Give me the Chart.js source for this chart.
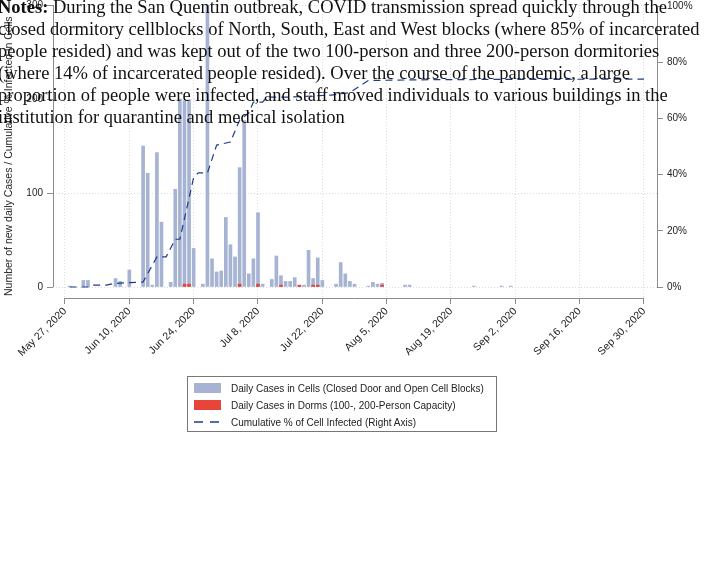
<!DOCTYPE html>
<html>
<head>
<meta charset="utf-8">
<script src="https://cdn.jsdelivr.net/npm/chart.js@4.4.0/dist/chart.umd.min.js"></script>
<style>
  html, body { margin: 0; padding: 0; background: #fff; }
  #wrap { position: relative; width: 717px; height: 583px; overflow: hidden; }
  #chart { position: absolute; left: 0; top: 0; }
  .notes {
    position: absolute; left: -2px; top: -4px;
    font-family: "Liberation Serif", "Times New Roman", serif;
    font-size: 18.5px; line-height: 22px; color: #111; white-space: nowrap;
  }
  .ytitle {
    position: absolute; left: 2px; top: 296px;
    transform-origin: left top; transform: rotate(-90deg);
    font-family: "Liberation Sans", Arial, sans-serif; font-size: 10.5px;
    line-height: 12px; color: #222; white-space: nowrap;
  }
  .legend {
    position: absolute; left: 187px; top: 376px; width: 308px; height: 54px;
    border: 1px solid #777; font-family: "Liberation Sans", Arial, sans-serif;
    font-size: 10px; color: #222; white-space: nowrap;
  }
  .row { position: absolute; left: 6px; height: 12px; display: flex; align-items: center; }
  .swatch { width: 27px; height: 10px; margin-right: 10px; flex: none; }
</style>
</head>
<body>
<div id="wrap">
  <canvas id="chart" width="717" height="583"></canvas>
  <div class="ytitle" id="ytitle"></div>
  <div class="legend" id="legend"></div>
  <div class="notes"><b>Notes:</b> During the San Quentin outbreak, COVID transmission spread quickly through the<br>closed dormitory cellblocks of North, South, East and West blocks (where 85% of incarcerated<br>people resided) and was kept out of the two 100-person and three 200-person dormitories<br>(where 14% of incarcerated people resided). Over the course of the pandemic, a large<br>proportion of people were infected, and staff moved individuals to various buildings in the<br>institution for quarantine and medical isolation</div>
</div>
<script>
// Colours
const CELL_COLOR = "#a6b3d3", DORM_COLOR = "#e8443a", LINE_COLOR = "#1f3c88";
const AXIS_COLOR = "#8c8c8c", GRID_COLOR = "#dcdcdc";

// Days since May 27, 2020 and their tick labels
const tickDays = [0, 14, 28, 42, 56, 70, 84, 98, 112, 126];
const tickLabels = ["May 27, 2020", "Jun 10, 2020", "Jun 24, 2020", "Jul 8, 2020", "Jul 22, 2020",
                    "Aug 5, 2020", "Aug 19, 2020", "Sep 2, 2020", "Sep 16, 2020", "Sep 30, 2020"];

// Daily cases in cells
const cellDays  = [1, 4, 5, 11, 12, 14, 17, 18, 19, 20, 21, 23, 24, 25, 26, 27, 28, 30, 31, 32, 33, 34, 35, 36, 37,
                   38, 39, 40, 41, 42, 43, 45, 46, 47, 48, 49, 50, 51, 52, 53, 54, 55, 56, 59, 60, 61, 62, 63,
                   66, 67, 68, 69, 74, 75, 89, 95, 97];
const cellCases = [1, 7, 7, 9, 6, 18, 150, 121, 2, 143, 69, 5, 104, 200, 198, 199, 41, 3, 320, 30, 16, 17, 74, 45, 32,
                   127, 177, 14, 30, 79, 3, 8, 33, 12, 6, 6, 10, 1, 2, 39, 9, 31, 7, 3, 26, 14, 6, 3,
                   1, 5, 3, 4, 2, 2, 1, 1, 1];

// Daily cases in dorms
const dormDays  = [26, 27, 38, 42, 47, 51, 54, 55, 69];
const dormCases = [3, 3, 3, 3, 2, 2, 2, 2, 2];

// Cumulative % of cell infected (right axis)
const cumDays = [1, 5, 6, 9, 10, 12, 17, 20, 22, 24, 25, 28, 29, 31, 33, 36, 38, 40, 41, 43, 44, 49, 58, 62, 66, 80, 126];
const cumPct  = [0, 0, 0.7, 0.7, 1.0, 1.4, 1.8, 10.7, 10.7, 17, 17, 39, 40.6, 40.6, 50.5, 51.6, 59.4, 62, 65.8, 65.8,
                 67.6, 67.6, 68.3, 69.2, 73.5, 73.8, 74];

const leftTicks = [0, 100, 200, 300];
const rightTicks = [0, 20, 40, 60, 80, 100];

const yTitle = "Number of new daily Cases / Cumulative % Infected in Cells";
const seriesLabels = ["Daily Cases in Cells (Closed Door and Open Cell Blocks)",
                      "Daily Cases in Dorms (100-, 200-Person Capacity)",
                      "Cumulative % of Cell Infected (Right Axis)"];

function points(xs, ys) {
    return xs.map((x, i) => ({ x: x, y: ys[i] }));
}

// Vertical axes: fixed width, and no extra room for half tick labels
function fitVertical(width) {
    return scale => {
        scale.width = width;
        scale.paddingTop = 0;
        scale.paddingBottom = 0;
    };
}

// Stata-style axis lines that only span the labelled range
const axisLines = {
    id: "axisLines",
    afterDraw(chart) {
        const { ctx, chartArea, scales: { x, y, y2 } } = chart;
        ctx.save();
        ctx.strokeStyle = AXIS_COLOR;
        ctx.lineWidth = 1;
        ctx.beginPath();
        const xb = Math.round(chartArea.bottom) + 0.5;
        ctx.moveTo(x.getPixelForValue(tickDays[0]), xb);
        ctx.lineTo(x.getPixelForValue(tickDays[tickDays.length - 1]), xb);
        const xl = Math.round(chartArea.left) + 0.5;
        ctx.moveTo(xl, y.getPixelForValue(0));
        ctx.lineTo(xl, y.getPixelForValue(300));
        const xr = Math.round(chartArea.right) + 0.5;
        ctx.moveTo(xr, y2.getPixelForValue(0));
        ctx.lineTo(xr, y2.getPixelForValue(100));
        ctx.stroke();
        ctx.restore();
    }
};

const tickFont = { family: "Liberation Sans", size: 10 };

const chart = new Chart(document.getElementById("chart"), {
    type: "bar",
    data: {
        datasets: [
            {
                label: seriesLabels[2], type: "line", data: points(cumDays, cumPct), yAxisID: "y2",
                borderColor: LINE_COLOR, borderWidth: 1.2, borderDash: [7, 5], pointRadius: 0,
                tension: 0, order: 0
            },
            {
                label: seriesLabels[1], data: points(dormDays, dormCases), backgroundColor: DORM_COLOR,
                barThickness: 3, grouped: false, order: 1
            },
            {
                label: seriesLabels[0], data: points(cellDays, cellCases), backgroundColor: CELL_COLOR,
                barThickness: 3, grouped: false, order: 2
            }
        ]
    },
    options: {
        responsive: false,
        animation: false,
        layout: { padding: { top: 5, left: 0, right: 0, bottom: 0 } },
        plugins: { legend: { display: false }, tooltip: { enabled: false } },
        scales: {
            x: {
                type: "linear", min: -2.61, max: 128.83, offset: false,
                afterBuildTicks: scale => { scale.ticks = tickDays.map(v => ({ value: v })); },
                afterFit: scale => { scale.height = 285; },
                ticks: {
                    autoSkip: false, minRotation: 45, maxRotation: 45, padding: 1, color: "#222",
                    font: { family: "Liberation Sans", size: 10.5 },
                    callback: (v, i) => tickLabels[i]
                },
                grid: { color: GRID_COLOR, tickColor: AXIS_COLOR, tickLength: 6, tickBorderDash: [], offset: false },
                border: { display: false, dash: [1, 2] }
            },
            y: {
                position: "left", min: -11.7, max: 300,
                afterBuildTicks: scale => { scale.ticks = leftTicks.map(v => ({ value: v })); },
                afterFit: fitVertical(53),
                ticks: { color: "#222", font: tickFont, padding: 4 },
                grid: { color: GRID_COLOR, tickColor: AXIS_COLOR, tickLength: 6, tickBorderDash: [] },
                border: { display: false, dash: [1, 2] }
            },
            y2: {
                position: "right", min: -3.91, max: 100.36,
                afterBuildTicks: scale => { scale.ticks = rightTicks.map(v => ({ value: v })); },
                afterFit: fitVertical(60),
                ticks: { color: "#222", font: tickFont, padding: 4, callback: v => v + "%" },
                grid: { drawOnChartArea: false, tickColor: AXIS_COLOR, tickLength: 6 },
                border: { display: false }
            }
        }
    },
    plugins: [axisLines]
});

// Axis title and legend as plain text
document.getElementById("ytitle").textContent = yTitle;

const legend = document.getElementById("legend");
const swatches = [
    `<div class="swatch" style="background:${CELL_COLOR}"></div>`,
    `<div class="swatch" style="background:${DORM_COLOR}"></div>`,
    `<svg class="swatch" width="27" height="10"><line x1="0" y1="5" x2="27" y2="5" stroke="${LINE_COLOR}" stroke-width="1.3" stroke-dasharray="9,7"/></svg>`
];
seriesLabels.forEach((label, i) => {
    const row = document.createElement("div");
    row.className = "row";
    row.style.top = (5 + i * 17) + "px";
    row.innerHTML = swatches[i] + `<span>${label}</span>`;
    legend.appendChild(row);
});
</script>
</body>
</html>
